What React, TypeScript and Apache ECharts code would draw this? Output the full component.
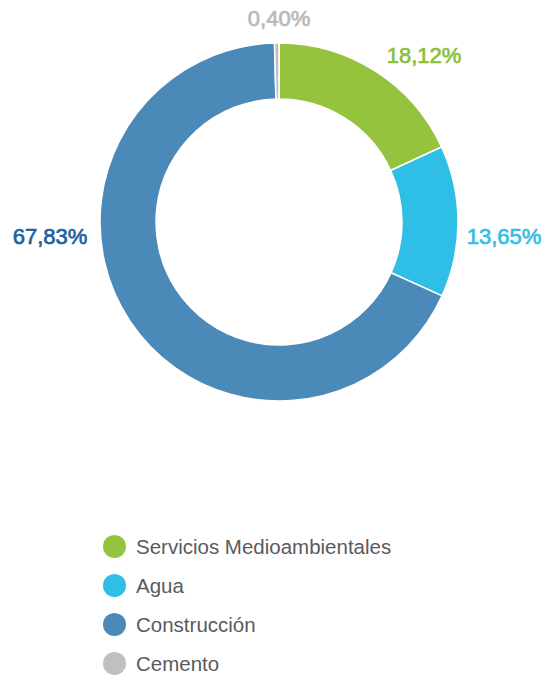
import React, { useEffect, useRef } from "react";
import * as echarts from "echarts";

const categories = ["Servicios Medioambientales", "Agua", "Construcción", "Cemento"];
const shares = [18.12, 13.65, 67.83, 0.4];
const sliceColors = ["#95c33d", "#2ebee6", "#4b89b8", "#c0c0c0"];
const labelColors = ["#8cc13a", "#37bde6", "#1d62a0", "#b9b9b9"];
const labelCenters = [
  [424, 55],
  [504, 236],
  [50, 236],
  [279, 18],
];

export default function App() {
  const ref = useRef<HTMLDivElement>(null);
  useEffect(() => {
    if (!ref.current) return;
    const chart = echarts.init(ref.current, undefined, { renderer: "svg" });
    chart.setOption({
      animation: false,
      backgroundColor: "#ffffff",
      legend: {
        orient: "vertical",
        left: 101,
        top: 533,
        height: 200,
        padding: 0,
        icon: "circle",
        itemWidth: 25,
        itemHeight: 25,
        itemGap: 12,
        data: categories,
        textStyle: {
          fontFamily: "Liberation Sans, Arial, sans-serif",
          fontSize: 20.5,
          color: "#5a5a5c",
          padding: [0, 0, 0, 4],
        },
      },
      series: [
        {
          type: "pie",
          center: [279, 222],
          radius: [123, 179],
          startAngle: 90,
          clockwise: true,
          avoidLabelOverlap: false,
          itemStyle: { borderColor: "#ffffff", borderWidth: 1.5 },
          label: {
            show: true,
            position: "outside",
            fontFamily: "Liberation Sans, Arial, sans-serif",
            fontSize: 22,
            fontWeight: "normal",
            textBorderWidth: 0.7,
            formatter: (p: any) => p.value.toFixed(2).replace(".", ",") + "%",
          },
          labelLine: { show: false },
          labelLayout: (p: any) => ({
            x: labelCenters[p.dataIndex][0],
            y: labelCenters[p.dataIndex][1],
            align: "center",
            verticalAlign: "middle",
          }),
          emphasis: { disabled: true },
          data: categories.map((name, i) => ({
            name,
            value: shares[i],
            itemStyle: { color: sliceColors[i] },
            label: { color: labelColors[i], textBorderColor: labelColors[i] },
          })),
        },
      ],
    });
    return () => chart.dispose();
  }, []);
  return (
    <div
      ref={ref}
      style={{ position: "fixed", left: 0, top: 0, width: 542, height: 675 }}
    />
  );
}
